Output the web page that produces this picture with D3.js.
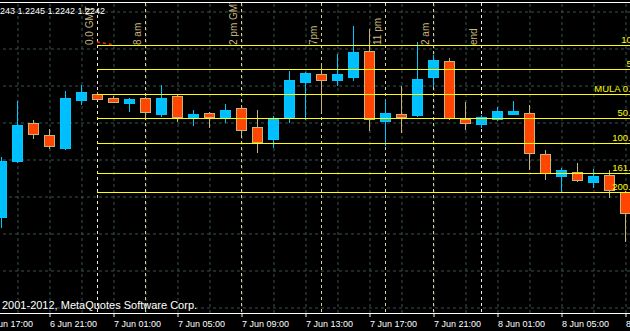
<!DOCTYPE html>
<html>
<head>
<meta charset="utf-8">
<script src="https://cdn.jsdelivr.net/npm/d3@7"></script>
<style>
body { margin: 0; background: #000; }
svg { display: block; font-family: "Liberation Sans", Arial, sans-serif; }
</style>
</head>
<body>
<div class="container"></div>
<script>
var width = 630;
var height = 331;
var plotTop = 3;
var plotBottom = 313;

var parseTime = d3.utcParse('%Y-%m-%d %H:%M');

// H1 bars, 6 Jun 18:00 .. 8 Jun 09:00
var firstBar = '2012-06-06 18:00';
var lastBar = '2012-06-08 09:00';

var opens = [1.22400, 1.22680, 1.22870, 1.22810, 1.22745, 1.22985, 1.23015, 1.22995, 1.22970, 1.22995,
             1.22915, 1.23005, 1.22900, 1.22920, 1.22900, 1.22945, 1.22850, 1.22790, 1.22900, 1.23075,
             1.23115, 1.23085, 1.23100, 1.23230, 1.22880, 1.22915, 1.22910, 1.23100, 1.23180, 1.22890,
             1.22865, 1.22890, 1.22915, 1.22920, 1.22715, 1.22605, 1.22625, 1.22575, 1.22610, 1.22525];
var highs = [1.22700, 1.22980, 1.22885, 1.22840, 1.23030, 1.23060, 1.23025, 1.23005, 1.22995, 1.23000,
             1.23060, 1.23015, 1.22935, 1.22925, 1.22965, 1.22955, 1.22935, 1.22905, 1.23130, 1.23125,
             1.23170, 1.23215, 1.23355, 1.23340, 1.22990, 1.23055, 1.23275, 1.23210, 1.23195, 1.22975,
             1.22910, 1.22950, 1.22980, 1.22960, 1.22735, 1.22645, 1.22670, 1.22640, 1.22635, 1.22530];
var lows = [1.22345, 1.22670, 1.22790, 1.22740, 1.22735, 1.22960, 1.22985, 1.22970, 1.22925, 1.22895,
            1.22900, 1.22875, 1.22855, 1.22845, 1.22870, 1.22810, 1.22720, 1.22745, 1.22870, 1.22885,
            1.22920, 1.23055, 1.23080, 1.22830, 1.22755, 1.22820, 1.22900, 1.23050, 1.22885, 1.22835,
            1.22845, 1.22880, 1.22910, 1.22635, 1.22585, 1.22525, 1.22575, 1.22545, 1.22495, 1.22275];
var closes = [1.22680, 1.22860, 1.22815, 1.22755, 1.22995, 1.23025, 1.22990, 1.22975, 1.22990, 1.22925,
              1.22995, 1.22900, 1.22915, 1.22900, 1.22935, 1.22835, 1.22775, 1.22895, 1.23085, 1.23120,
              1.23085, 1.23115, 1.23225, 1.22890, 1.22920, 1.22900, 1.23090, 1.23185, 1.22895, 1.22870,
              1.22900, 1.22930, 1.22930, 1.22720, 1.22620, 1.22635, 1.22585, 1.22605, 1.22535, 1.22420];

var headerValues = ['1.2243', '1.2245', '1.2242', '1.2242'];

// price scale grid (axis labels sit off to the right)
var priceGrid = [1.2343, 1.23245, 1.2306, 1.22875, 1.2269, 1.22505, 1.2232, 1.22135, 1.2195];

var timeTicks = ['2012-06-06 17:00', '2012-06-06 21:00', '2012-06-07 01:00', '2012-06-07 05:00',
                 '2012-06-07 09:00', '2012-06-07 13:00', '2012-06-07 17:00', '2012-06-07 21:00',
                 '2012-06-08 01:00', '2012-06-08 05:00', '2012-06-08 09:00'];

var eventTimes = ['2012-06-07 00:00', '2012-06-07 03:00', '2012-06-07 09:00', '2012-06-07 14:00',
                  '2012-06-07 18:00', '2012-06-07 21:00', '2012-06-08 00:00'];
var eventLabels = ['0.0 GMT', '8 am', '2 pm GMT', '7pm', '11 pm', '2 am', 'end'];

var fibStart = '2012-06-07 00:00';
var fibBase = 1.23015;
var fibRange = 0.00245;
var fibLevels = [-100, -50, 0, 50, 100, 161.8, 200];
var fibLabels = ['100.0', '50.0', 'MULA 0.0', '50.0', '100.0', '161.8', '200.0'];

var redTimes = ['2012-06-07 00:00', '2012-06-07 00:56'];
var redPrices = [1.23275, 1.23262];

var bars = d3.utcHour.range(parseTime(firstBar), d3.utcHour.offset(parseTime(lastBar), 1))
    .map(function(t, i) {
        return {t: t, o: opens[i], h: highs[i], l: lows[i], c: closes[i]};
    });

var XScale = d3.scaleUtc()
    .domain([parseTime(firstBar), parseTime(lastBar)])
    .range([1, 625]);

var YScale = d3.scaleLinear()
    .domain([1.2183, 1.23485])
    .range([height, 0]);

var bullFill = '#00bfff', bullLine = '#00c8ff';
var bearFill = '#ff4500', bearLine = '#c8b47a';
var gridColor = '#3a5252';

var px = function(v) { return Math.round(v) + 0.5; };

var svg = d3.select('.container').append('svg')
    .attr('width', width)
    .attr('height', height);

svg.append('rect').attr('width', width).attr('height', height).attr('fill', '#000');

svg.append('clipPath').attr('id', 'plot')
    .append('rect').attr('x', 0).attr('y', plotTop).attr('width', width).attr('height', plotBottom - plotTop);

var plot = svg.append('g').attr('clip-path', 'url(#plot)');

// horizontal grid from the price axis
var yAxis = d3.axisRight(YScale).tickValues(priceGrid).tickSizeInner(-width).tickFormat('');
plot.append('g')
    .attr('transform', 'translate(' + width + ',0.5)')
    .call(yAxis)
    .call(function(g) {
        g.select('.domain').remove();
        g.selectAll('line').attr('stroke', gridColor).attr('stroke-dasharray', '3,3');
    });

// vertical grid every 2 hours
var gridTimes = bars.map(function(b) { return b.t; }).filter(function(t) { return t.getUTCHours() % 2 === 1; });
var xGrid = d3.axisBottom(XScale).tickValues(gridTimes).tickSizeInner(-(plotBottom - plotTop)).tickFormat('');
plot.append('g')
    .attr('transform', 'translate(0.5,' + plotBottom + ')')
    .call(xGrid)
    .call(function(g) {
        g.select('.domain').remove();
        g.selectAll('line').attr('stroke', gridColor).attr('stroke-dasharray', '3,3');
    });

// session lines with vertical labels
var events = eventTimes.map(function(t, i) { return {t: parseTime(t), label: eventLabels[i], i: i}; });
var ev = plot.selectAll('.event').data(events).enter().append('g').attr('class', 'event');
ev.append('line')
    .attr('x1', function(d) { return px(XScale(d.t)); })
    .attr('x2', function(d) { return px(XScale(d.t)); })
    .attr('y1', plotTop).attr('y2', plotBottom)
    .attr('stroke', function(d) { return (d.i === 0 || d.i === events.length - 1) ? '#eeeee0' : '#d8d0a0'; })
    .attr('stroke-dasharray', '3,3');
ev.append('text')
    .attr('transform', function(d) { return 'translate(' + (Math.round(XScale(d.t)) - 4) + ',45) rotate(-90)'; })
    .attr('fill', '#c8b880')
    .attr('font-size', '10px')
    .text(function(d) { return d.label; });

// candles
var candle = plot.selectAll('.candle').data(bars).enter().append('g').attr('class', 'candle');
candle.append('line')
    .attr('x1', function(d) { return px(XScale(d.t)); })
    .attr('x2', function(d) { return px(XScale(d.t)); })
    .attr('y1', function(d) { return YScale(d.h); })
    .attr('y2', function(d) { return YScale(d.l); })
    .attr('stroke', function(d) { return d.c >= d.o ? bullLine : bearLine; });
candle.append('rect')
    .attr('x', function(d) { return Math.round(XScale(d.t)) - 4.5; })
    .attr('y', function(d) { return px(YScale(Math.max(d.o, d.c))); })
    .attr('width', 10)
    .attr('height', function(d) { return Math.max(1, Math.round(Math.abs(YScale(d.o) - YScale(d.c)))); })
    .attr('fill', function(d) { return d.c >= d.o ? bullFill : bearFill; })
    .attr('stroke', function(d) { return d.c >= d.o ? bullLine : bearLine; });

// fibo levels from the day open
var fibs = fibLevels.map(function(lv, i) { return {lv: lv, label: fibLabels[i], p: fibBase - lv / 100 * fibRange}; });
var fx = XScale(parseTime(fibStart));
plot.selectAll('.fib').data(fibs).enter().append('line')
    .attr('x1', fx).attr('x2', width)
    .attr('y1', function(d) { return px(YScale(d.p)); })
    .attr('y2', function(d) { return px(YScale(d.p)); })
    .attr('stroke', '#ffff00');
plot.selectAll('.fibLabel').data(fibs).enter().append('text')
    .attr('x', function(d) { return d.lv < 0 ? 645 : 636; })
    .attr('y', function(d) { return Math.round(YScale(d.p)) - 2; })
    .attr('text-anchor', 'end')
    .attr('fill', '#ffff00')
    .attr('font-size', '9.5px')
    .text(function(d) { return d.label; });

// small red dotted segment
var red = redTimes.map(function(t, i) { return [XScale(parseTime(t)), YScale(redPrices[i])]; });
plot.append('path')
    .attr('d', d3.line()(red))
    .attr('stroke', '#ff2000')
    .attr('stroke-width', 1.5)
    .attr('stroke-dasharray', '3,3')
    .attr('fill', 'none');

// frame
svg.append('line').attr('x1', 0).attr('x2', width).attr('y1', 2.5).attr('y2', 2.5).attr('stroke', '#fff');
svg.append('line').attr('x1', 0).attr('x2', width).attr('y1', plotBottom + 0.5).attr('y2', plotBottom + 0.5).attr('stroke', '#fff');

// time axis
var xAxis = d3.axisBottom(XScale)
    .tickValues(timeTicks.map(parseTime))
    .tickFormat(d3.utcFormat('%-d %b %H:%M'))
    .tickSizeInner(4).tickSizeOuter(0);
svg.append('g')
    .attr('transform', 'translate(0.5,' + plotBottom + ')')
    .call(xAxis)
    .attr('font-family', null)
    .call(function(g) {
        g.select('.domain').remove();
        g.selectAll('line').attr('stroke', '#fff');
        g.selectAll('text')
            .attr('fill', '#fff')
            .attr('font-size', '9px')
            .attr('text-anchor', 'start')
            .attr('x', 0).attr('y', 14).attr('dy', null);
    });

svg.append('text')
    .attr('x', 105).attr('y', 14)
    .attr('text-anchor', 'end')
    .attr('fill', '#fff')
    .attr('font-size', '9px')
    .text(headerValues.join(' '));

svg.append('text')
    .attr('x', 2).attr('y', 309)
    .attr('fill', '#fff')
    .attr('font-size', '11px')
    .text('2001-2012, MetaQuotes Software Corp.');
</script>
</body>
</html>
